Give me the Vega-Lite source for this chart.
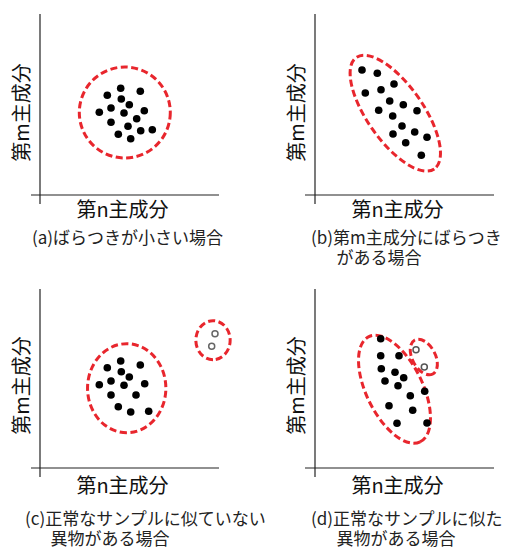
{
  "$schema": "https://vega.github.io/schema/vega-lite/v6.json",
  "background": "white",
  "padding": {"left": 12, "top": 13, "right": 0, "bottom": 0},
  "columns": 2,
  "spacing": {"row": 93, "column": 95},
  "bounds": "flush",
  "config": {
    "view": {"stroke": null},
    "font": "Noto Sans CJK JP",
    "axis": {"domain": false, "ticks": false, "labels": false, "grid": false, "titleFontSize": 20, "titleFontWeight": "normal", "titleColor": "#111", "titleFont": "Noto Sans CJK JP"},
    "axisX": {"titlePadding": 5, "titleX": 82},
    "axisY": {"titlePadding": 8, "titleY": 97},
    "title": {"orient": "bottom", "anchor": "start", "frame": "group", "fontSize": 17, "fontWeight": "normal", "color": "#222", "lineHeight": 20, "offset": 11, "font": "Noto Sans CJK JP"}
  },
  "concat": [
    {
      "width": 180, "height": 180,
      "title": {"text": "(a)ばらつきが小さい場合", "dx": -8},
      "layer": [
        {
          "data": {"values": [{"x": -9, "y": 0, "x2": 179, "y2": 0}, {"x": 0, "y": -9, "x2": 0, "y2": 181}]},
          "mark": {"type": "rule", "color": "#222", "strokeWidth": 1.2},
          "encoding": {
            "x": {"field": "x", "type": "quantitative", "scale": {"domain": [0, 180], "nice": false, "zero": false}, "title": "第n主成分"},
            "x2": {"field": "x2"},
            "y": {"field": "y", "type": "quantitative", "scale": {"domain": [0, 180], "nice": false, "zero": false}, "title": "第m主成分"},
            "y2": {"field": "y2"}
          }
        },
        {
          "data": {"values": [{"x": 84.8, "y": 82.5, "d": 91, "kind": "a", "rot": 0}]},
          "mark": {"type": "point", "filled": false, "color": "#e8262d", "strokeWidth": 3, "strokeDash": [7, 3.5], "opacity": 1},
          "encoding": {
            "x": {"field": "x", "type": "quantitative", "title": "第n主成分"},
            "y": {"field": "y", "type": "quantitative", "title": "第m主成分"},
            "size": {"field": "d", "type": "quantitative", "scale": {"type": "pow", "exponent": 2, "domain": [0, 180], "range": [0, 32400]}, "legend": null},
            "shape": {"field": "kind", "type": "nominal", "scale": {"domain": ["a", "b", "c", "d1", "d2"], "range": ["circle", "M1,0A1,0.41,0,0,1,0,0.41A1,0.41,0,0,1,-1,0A1,0.41,0,0,1,0,-0.41A1,0.41,0,0,1,1,0Z", "M1,0A1,0.88,0,0,1,0,0.88A1,0.88,0,0,1,-1,0A1,0.88,0,0,1,0,-0.88A1,0.88,0,0,1,1,0Z", "M1,0A1,0.48,0,0,1,0,0.48A1,0.48,0,0,1,-1,0A1,0.48,0,0,1,0,-0.48A1,0.48,0,0,1,1,0Z", "M1,0A1,0.6,0,0,1,0,0.6A1,0.6,0,0,1,-1,0A1,0.6,0,0,1,0,-0.6A1,0.6,0,0,1,1,0Z"]}, "legend": null},
            "angle": {"field": "rot", "type": "quantitative", "scale": {"domain": [0, 360], "range": [0, 360]}, "legend": null}
          }
        },
        {
          "data": {"values": [
            {"x": 67.3, "y": 99.7}, {"x": 80.7, "y": 106.7}, {"x": 100.3, "y": 103.7}, {"x": 81.3, "y": 96},
            {"x": 89.3, "y": 90.3}, {"x": 71, "y": 87}, {"x": 59.3, "y": 82.7}, {"x": 84, "y": 82},
            {"x": 104.3, "y": 84.3}, {"x": 71, "y": 72.7}, {"x": 96.7, "y": 76.3}, {"x": 88, "y": 68.7},
            {"x": 100.7, "y": 64.3}, {"x": 112.3, "y": 65.3}, {"x": 78.3, "y": 60.7}, {"x": 90.7, "y": 56.3}
          ]},
          "mark": {"type": "point", "filled": true, "color": "#000", "size": 58, "opacity": 1},
          "encoding": {
            "x": {"field": "x", "type": "quantitative", "title": "第n主成分"},
            "y": {"field": "y", "type": "quantitative", "title": "第m主成分"}
          }
        }
      ]
    },
    {
      "width": 180, "height": 180,
      "title": {"text": ["(b)第m主成分にばらつき", "\u200b\u3000\u2002がある場合"], "dx": -4},
      "layer": [
        {
          "data": {"values": [{"x": -10, "y": 0, "x2": 179, "y2": 0}, {"x": 0, "y": -9, "x2": 0, "y2": 181}]},
          "mark": {"type": "rule", "color": "#222", "strokeWidth": 1.2},
          "encoding": {
            "x": {"field": "x", "type": "quantitative", "scale": {"domain": [0, 180], "nice": false, "zero": false}, "title": "第n主成分"},
            "x2": {"field": "x2"},
            "y": {"field": "y", "type": "quantitative", "scale": {"domain": [0, 180], "nice": false, "zero": false}, "title": "第m主成分"},
            "y2": {"field": "y2"}
          }
        },
        {
          "data": {"values": [{"x": 80.3, "y": 81.8, "d": 136, "kind": "b", "rot": 55}]},
          "mark": {"type": "point", "filled": false, "color": "#e8262d", "strokeWidth": 3, "strokeDash": [7, 3.5], "opacity": 1},
          "encoding": {
            "x": {"field": "x", "type": "quantitative", "title": "第n主成分"},
            "y": {"field": "y", "type": "quantitative", "title": "第m主成分"},
            "size": {"field": "d", "type": "quantitative", "scale": {"type": "pow", "exponent": 2, "domain": [0, 180], "range": [0, 32400]}, "legend": null},
            "shape": {"field": "kind", "type": "nominal", "scale": {"domain": ["a", "b", "c", "d1", "d2"], "range": ["circle", "M1,0A1,0.41,0,0,1,0,0.41A1,0.41,0,0,1,-1,0A1,0.41,0,0,1,0,-0.41A1,0.41,0,0,1,1,0Z", "M1,0A1,0.88,0,0,1,0,0.88A1,0.88,0,0,1,-1,0A1,0.88,0,0,1,0,-0.88A1,0.88,0,0,1,1,0Z", "M1,0A1,0.48,0,0,1,0,0.48A1,0.48,0,0,1,-1,0A1,0.48,0,0,1,0,-0.48A1,0.48,0,0,1,1,0Z", "M1,0A1,0.6,0,0,1,0,0.6A1,0.6,0,0,1,-1,0A1,0.6,0,0,1,0,-0.6A1,0.6,0,0,1,1,0Z"]}, "legend": null},
            "angle": {"field": "rot", "type": "quantitative", "scale": {"domain": [0, 360], "range": [0, 360]}, "legend": null}
          }
        },
        {
          "data": {"values": [
            {"x": 47, "y": 125}, {"x": 62.3, "y": 121.7}, {"x": 79, "y": 111}, {"x": 50.3, "y": 102},
            {"x": 66, "y": 105.3}, {"x": 74.7, "y": 94}, {"x": 88.3, "y": 90.3}, {"x": 63.7, "y": 84.7},
            {"x": 77.7, "y": 79}, {"x": 102, "y": 84.3}, {"x": 87, "y": 69}, {"x": 78, "y": 61},
            {"x": 99.7, "y": 63}, {"x": 112, "y": 57.7}, {"x": 90.7, "y": 52.3}, {"x": 106.3, "y": 39.7}
          ]},
          "mark": {"type": "point", "filled": true, "color": "#000", "size": 58, "opacity": 1},
          "encoding": {
            "x": {"field": "x", "type": "quantitative", "title": "第n主成分"},
            "y": {"field": "y", "type": "quantitative", "title": "第m主成分"}
          }
        }
      ]
    },
    {
      "width": 180, "height": 180,
      "title": {"text": ["(c)正常なサンプルに似ていない", "\u200b\u3000\u2002異物がある場合"], "dx": -15, "offset": 16},
      "layer": [
        {
          "data": {"values": [{"x": -9, "y": 0, "x2": 179, "y2": 0}, {"x": 0, "y": -9, "x2": 0, "y2": 179}]},
          "mark": {"type": "rule", "color": "#222", "strokeWidth": 1.2},
          "encoding": {
            "x": {"field": "x", "type": "quantitative", "scale": {"domain": [0, 180], "nice": false, "zero": false}, "title": "第n主成分", "axis": {"titlePadding": 8}},
            "x2": {"field": "x2"},
            "y": {"field": "y", "type": "quantitative", "scale": {"domain": [0, 180], "nice": false, "zero": false}, "title": "第m主成分"},
            "y2": {"field": "y2"}
          }
        },
        {
          "data": {"values": [{"x": 86.7, "y": 79.8, "d": 89, "kind": "c", "rot": 90}, {"x": 173, "y": 127.8, "d": 39, "kind": "c", "rot": 90}]},
          "mark": {"type": "point", "filled": false, "color": "#e8262d", "strokeWidth": 3, "strokeDash": [7, 3.5], "opacity": 1},
          "encoding": {
            "x": {"field": "x", "type": "quantitative", "title": "第n主成分"},
            "y": {"field": "y", "type": "quantitative", "title": "第m主成分"},
            "size": {"field": "d", "type": "quantitative", "scale": {"type": "pow", "exponent": 2, "domain": [0, 180], "range": [0, 32400]}, "legend": null},
            "shape": {"field": "kind", "type": "nominal", "scale": {"domain": ["a", "b", "c", "d1", "d2"], "range": ["circle", "M1,0A1,0.41,0,0,1,0,0.41A1,0.41,0,0,1,-1,0A1,0.41,0,0,1,0,-0.41A1,0.41,0,0,1,1,0Z", "M1,0A1,0.88,0,0,1,0,0.88A1,0.88,0,0,1,-1,0A1,0.88,0,0,1,0,-0.88A1,0.88,0,0,1,1,0Z", "M1,0A1,0.48,0,0,1,0,0.48A1,0.48,0,0,1,-1,0A1,0.48,0,0,1,0,-0.48A1,0.48,0,0,1,1,0Z", "M1,0A1,0.6,0,0,1,0,0.6A1,0.6,0,0,1,-1,0A1,0.6,0,0,1,0,-0.6A1,0.6,0,0,1,1,0Z"]}, "legend": null},
            "angle": {"field": "rot", "type": "quantitative", "scale": {"domain": [0, 360], "range": [0, 360]}, "legend": null}
          }
        },
        {
          "data": {"values": [
            {"x": 67.3, "y": 100.3}, {"x": 80.7, "y": 107}, {"x": 100.3, "y": 103}, {"x": 81.3, "y": 96.3},
            {"x": 89.3, "y": 91}, {"x": 71, "y": 87}, {"x": 59.3, "y": 83.3}, {"x": 84, "y": 82.7},
            {"x": 104.7, "y": 84.3}, {"x": 71, "y": 73}, {"x": 96, "y": 73}, {"x": 78.3, "y": 61.3},
            {"x": 90.7, "y": 56}, {"x": 108.7, "y": 56.7}
          ]},
          "mark": {"type": "point", "filled": true, "color": "#000", "size": 58, "opacity": 1},
          "encoding": {
            "x": {"field": "x", "type": "quantitative", "title": "第n主成分"},
            "y": {"field": "y", "type": "quantitative", "title": "第m主成分"}
          }
        },
        {
          "data": {"values": [{"x": 175, "y": 134.3}, {"x": 171.7, "y": 121.7}]},
          "mark": {"type": "point", "filled": false, "color": "#666", "strokeWidth": 1.5, "size": 36, "opacity": 1},
          "encoding": {
            "x": {"field": "x", "type": "quantitative", "title": "第n主成分"},
            "y": {"field": "y", "type": "quantitative", "title": "第m主成分"}
          }
        }
      ]
    },
    {
      "width": 180, "height": 180,
      "title": {"text": ["(d)正常なサンプルに似た", "\u200b\u3000\u2002異物がある場合"], "dx": -4, "offset": 16},
      "layer": [
        {
          "data": {"values": [{"x": -10, "y": 0, "x2": 179, "y2": 0}, {"x": 0, "y": -9, "x2": 0, "y2": 179}]},
          "mark": {"type": "rule", "color": "#222", "strokeWidth": 1.2},
          "encoding": {
            "x": {"field": "x", "type": "quantitative", "scale": {"domain": [0, 180], "nice": false, "zero": false}, "title": "第n主成分", "axis": {"titlePadding": 8}},
            "x2": {"field": "x2"},
            "y": {"field": "y", "type": "quantitative", "scale": {"domain": [0, 180], "nice": false, "zero": false}, "title": "第m主成分"},
            "y2": {"field": "y2"}
          }
        },
        {
          "data": {"values": [{"x": 79.5, "y": 78.8, "d": 117, "kind": "d1", "rot": 64}, {"x": 108.8, "y": 111, "d": 38.4, "kind": "d2", "rot": 62}]},
          "mark": {"type": "point", "filled": false, "color": "#e8262d", "strokeWidth": 3, "strokeDash": [7, 3.5], "opacity": 1},
          "encoding": {
            "x": {"field": "x", "type": "quantitative", "title": "第n主成分"},
            "y": {"field": "y", "type": "quantitative", "title": "第m主成分"},
            "size": {"field": "d", "type": "quantitative", "scale": {"type": "pow", "exponent": 2, "domain": [0, 180], "range": [0, 32400]}, "legend": null},
            "shape": {"field": "kind", "type": "nominal", "scale": {"domain": ["a", "b", "c", "d1", "d2"], "range": ["circle", "M1,0A1,0.41,0,0,1,0,0.41A1,0.41,0,0,1,-1,0A1,0.41,0,0,1,0,-0.41A1,0.41,0,0,1,1,0Z", "M1,0A1,0.88,0,0,1,0,0.88A1,0.88,0,0,1,-1,0A1,0.88,0,0,1,0,-0.88A1,0.88,0,0,1,1,0Z", "M1,0A1,0.48,0,0,1,0,0.48A1,0.48,0,0,1,-1,0A1,0.48,0,0,1,0,-0.48A1,0.48,0,0,1,1,0Z", "M1,0A1,0.6,0,0,1,0,0.6A1,0.6,0,0,1,-1,0A1,0.6,0,0,1,0,-0.6A1,0.6,0,0,1,1,0Z"]}, "legend": null},
            "angle": {"field": "rot", "type": "quantitative", "scale": {"domain": [0, 360], "range": [0, 360]}, "legend": null}
          }
        },
        {
          "data": {"values": [
            {"x": 65.7, "y": 129.3}, {"x": 65.7, "y": 112.3}, {"x": 84, "y": 112.3}, {"x": 66.3, "y": 99.3},
            {"x": 80, "y": 95.7}, {"x": 88.7, "y": 90.3}, {"x": 70, "y": 87}, {"x": 83, "y": 82.3},
            {"x": 109.7, "y": 76.7}, {"x": 95.3, "y": 72.3}, {"x": 74, "y": 62.3}, {"x": 97.7, "y": 57.7},
            {"x": 82, "y": 44.7}, {"x": 112, "y": 45}
          ]},
          "mark": {"type": "point", "filled": true, "color": "#000", "size": 58, "opacity": 1},
          "encoding": {
            "x": {"field": "x", "type": "quantitative", "title": "第n主成分"},
            "y": {"field": "y", "type": "quantitative", "title": "第m主成分"}
          }
        },
        {
          "data": {"values": [{"x": 101, "y": 118.3}, {"x": 109.3, "y": 101}]},
          "mark": {"type": "point", "filled": false, "color": "#555", "strokeWidth": 1.5, "size": 36, "opacity": 1},
          "encoding": {
            "x": {"field": "x", "type": "quantitative", "title": "第n主成分"},
            "y": {"field": "y", "type": "quantitative", "title": "第m主成分"}
          }
        }
      ]
    }
  ]
}
